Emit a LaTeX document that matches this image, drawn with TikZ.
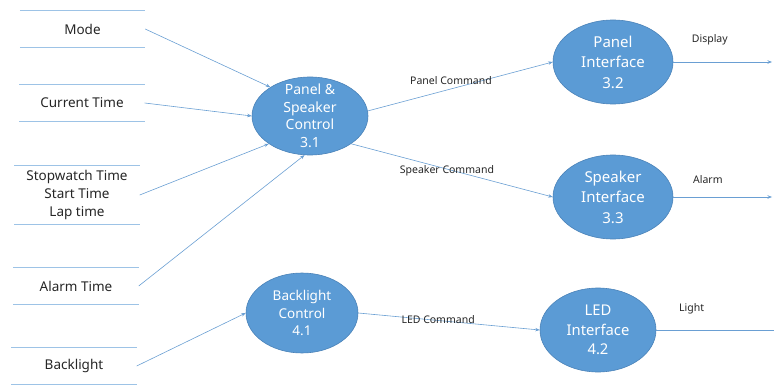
\documentclass[tikz,border=0pt]{standalone}
\usepackage{fontspec}
\setmainfont{Noto Sans}
\usetikzlibrary{shapes.geometric,arrows.meta}
\definecolor{procblue}{HTML}{5B9BD5}
\definecolor{procedge}{HTML}{4A82B8}
\definecolor{storeblue}{HTML}{9DC3E6}
\definecolor{flowblue}{HTML}{6A9FD3}
\definecolor{labelgray}{HTML}{262626}

\begin{document}
\begin{tikzpicture}[x=1pt,y=-1pt]
    % Styles
    \tikzstyle{process}=[ellipse, draw=procedge, line width=0.6pt, fill=procblue, text=white, align=center, inner xsep=0pt, inner ysep=-6pt, font=\fontsize{15}{20.5}\selectfont]
    \tikzstyle{store}=[minimum width=125pt, minimum height=36pt, inner sep=0pt, align=center, text=labelgray, font=\fontsize{13.5}{18}\selectfont]
    \tikzstyle{storeline}=[storeblue, line width=0.8pt]
    \tikzstyle{flow}=[-{Stealth[length=4.5pt,width=3.5pt]}, flowblue, line width=0.6pt]
    \tikzstyle{flowlabel}=[text=labelgray, font=\fontsize{10.5}{12}\selectfont]

    \useasboundingbox (0,0) rectangle (774,385);

    % Data stores
    \node[store] (mode) at (82.5,29) {Mode};
    \node[store] (ctime) at (82,103) {Current Time};
    \node[store, minimum height=58pt] (swatch) at (77,195) {Stopwatch Time\\Start Time\\Lap time};
    \node[store, minimum height=37pt] (atime) at (76,286) {Alarm Time};
    \node[store] (blight) at (74,366) {Backlight};
    \foreach \s in {mode,ctime,swatch,atime,blight}
        \draw[storeline] (\s.north west) -- (\s.north east) (\s.south west) -- (\s.south east);

    % Processes
    \node[process, minimum width=116pt, minimum height=78pt, inner ysep=-10pt, font=\fontsize{14}{17.5}\selectfont] (psc) at (310,116) {Panel \&\\Speaker\\Control\\3.1};
    \node[process, minimum width=120pt, minimum height=84pt] (pif) at (613,62) {Panel\\Interface\\3.2};
    \node[process, minimum width=120pt, minimum height=84pt] (sif) at (613,197) {Speaker\\Interface\\3.3};
    \node[process, minimum width=112pt, minimum height=80pt, font=\fontsize{13.5}{17.7}\selectfont] (bctl) at (302,313) {Backlight\\Control\\4.1};
    \node[process, minimum width=116pt, minimum height=84pt, font=\fontsize{14.8}{19.5}\selectfont] (ledif) at (598,330) {LED\\Interface\\4.2};

    % Free ends of the outputs
    \coordinate (dispend) at (772,62);
    \coordinate (alarmend) at (772,197);
    \coordinate (lightend) at (774,330);

    % Inputs
    \draw[flow] (mode.east) -- (psc.144);
    \draw[flow] (ctime.east) -- (psc.180);
    \draw[flow] (swatch.east) -- (psc.214);
    \draw[flow] (atime.east) -- (psc.262);
    \draw[flow] (blight.east) -- (bctl.180);

    % Commands
    \draw[flow] (psc.5) -- node[flowlabel, pos=0.45, yshift=8pt] (lpanel) {Panel Command} (pif.180);
    \draw[flow] (psc.-34) -- node[flowlabel, pos=0.475, yshift=-2pt] (lspeaker) {Speaker Command} (sif.180);
    \draw[flow] (bctl.0) -- node[flowlabel, pos=0.44, yshift=1pt] (lled) {LED Command} (ledif.180);

    % Outputs
    \draw[flow] (pif.east) -- node[flowlabel, pos=0.37, yshift=22pt] (ldisp) {Display} (dispend);
    \draw[flow] (sif.east) -- node[flowlabel, pos=0.35, yshift=17pt] (lalarm) {Alarm} (alarmend);
    \draw[flowblue, line width=0.6pt] (ledif.east) -- node[flowlabel, pos=0.3, yshift=21pt] (llight) {Light} (lightend);
\end{tikzpicture}
\end{document}
